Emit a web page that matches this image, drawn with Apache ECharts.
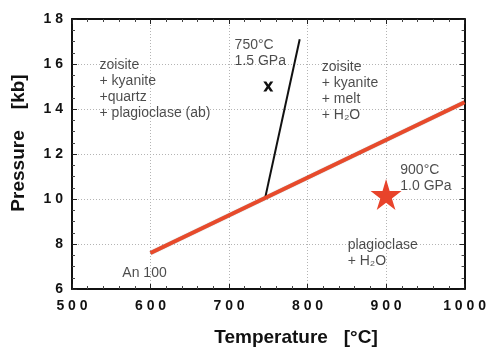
<!DOCTYPE html>
<html>
<head>
<meta charset="utf-8">
<script src="https://cdn.jsdelivr.net/npm/echarts@6/dist/echarts.min.js"></script>
<style>
  html, body { margin: 0; padding: 0; background: #fff; }
  #chart { width: 489px; height: 347px; }
</style>
</head>
<body>
<div id="chart"></div>
<script>
// data
const xTicks = [500, 600, 700, 800, 900, 1000]
const yTicks = [6, 8, 10, 12, 14, 16, 18]
const an100Line = [[600, 7.6], [1000, 14.3]]      // plagioclase breakdown (red)
const meltLine = [[746, 10.05], [790, 17.1]]      // melting curve (black)
const crossPoint = [[750, 15.0]]                  // x marker
const starPoint = [[900, 10.2]]                   // red star
const notes = [
  { text: 'zoisite\n+ kyanite\n+quartz\n+ plagioclase (ab)', at: [530, 16.5] },
  { text: '750°C\n1.5 GPa', at: [702, 17.38] },
  { text: 'zoisite\n+ kyanite\n+ melt\n+ H₂O', at: [813, 16.4] },
  { text: '900°C\n1.0 GPa', at: [913, 11.82] },
  { text: 'plagioclase\n+ H₂O', at: [846, 8.49] },
  { text: 'An 100', at: [559, 7.24] },
]

const FONT = '"Liberation Sans", Arial, sans-serif'
const spaced = (v) => String(v).split('').join(' ')

const chart = echarts.init(document.getElementById('chart'), null, { renderer: 'canvas' })

const axisCommon = {
  type: 'value',
  axisLine: { show: true, onZero: false, lineStyle: { color: '#111', width: 2 } },
  axisTick: { show: true, inside: true, length: 5, lineStyle: { color: '#222', width: 1 } },
  minorTick: { show: true, length: 3, lineStyle: { color: '#444', width: 1 } },
}

const option = {
  backgroundColor: '#fff',
  animation: false,
  grid: { left: 72, right: 21, top: 19, bottom: 58 },
  xAxis: [
    {
      ...axisCommon,
      min: xTicks[0],
      max: xTicks[xTicks.length - 1],
      interval: 100,
      minorTick: { ...axisCommon.minorTick, splitNumber: 5 },
      axisLabel: {
        margin: 10,
        color: '#111',
        fontFamily: FONT,
        fontWeight: 'bold',
        fontSize: 14,
        formatter: spaced,
      },
      splitLine: { show: true, lineStyle: { color: '#b4b4b4', type: [1, 2], width: 1 } },
    },
    {
      ...axisCommon,
      position: 'top',
      min: xTicks[0],
      max: xTicks[xTicks.length - 1],
      interval: 100,
      minorTick: { ...axisCommon.minorTick, splitNumber: 5 },
      axisLabel: { show: false },
      splitLine: { show: false },
    },
  ],
  yAxis: [
    {
      ...axisCommon,
      min: yTicks[0],
      max: yTicks[yTicks.length - 1],
      interval: 2,
      minorTick: { ...axisCommon.minorTick, splitNumber: 4 },
      axisLabel: {
        margin: 9,
        color: '#111',
        fontFamily: FONT,
        fontWeight: 'bold',
        fontSize: 14,
        formatter: spaced,
      },
      splitLine: { show: true, lineStyle: { color: '#b4b4b4', type: [1, 2], width: 1 } },
    },
    {
      ...axisCommon,
      position: 'right',
      min: yTicks[0],
      max: yTicks[yTicks.length - 1],
      interval: 2,
      minorTick: { ...axisCommon.minorTick, splitNumber: 4 },
      axisLabel: { show: false },
      splitLine: { show: false },
    },
  ],
  series: [
    {
      type: 'line',
      data: meltLine,
      symbol: 'none',
      lineStyle: { color: '#111', width: 2 },
      z: 3,
    },
    {
      type: 'line',
      data: an100Line,
      symbol: 'none',
      lineStyle: { color: '#e84a2b', width: 4, shadowColor: 'rgba(0,0,0,0.35)', shadowBlur: 1 },
      z: 4,
    },
    {
      type: 'scatter',
      data: crossPoint,
      symbol: 'path://M0,0 L3,0 L5,3 L7,0 L10,0 L6.6,5 L10,10 L7,10 L5,7 L3,10 L0,10 L3.4,5 Z',
      symbolSize: 10,
      itemStyle: { color: '#111', opacity: 1 },
      z: 5,
    },
    {
      type: 'scatter',
      data: starPoint,
      symbol: 'path://M50,0 L61,35 L98,35 L68,57 L79,91 L50,70 L21,91 L32,57 L2,35 L39,35 Z',
      symbolSize: 31,
      itemStyle: { color: '#e8432b', opacity: 1 },
      z: 5,
    },
    {
      type: 'scatter',
      data: notes.map((n) => ({ name: n.text, value: n.at })),
      symbol: 'circle',
      symbolSize: 2,
      itemStyle: { color: 'rgba(0,0,0,0)' },
      silent: true,
      labelLayout: { hideOverlap: false },
      label: {
        show: true,
        position: 'insideTopLeft',
        formatter: (p) => p.name,
        color: '#1e1e1e',
        fontFamily: FONT,
        fontSize: 14,
        lineHeight: 16,
      },
      z: 6,
    },
  ],
  graphic: [
    {
      type: 'text',
      x: 296,
      y: 338,
      style: {
        text: 'Temperature   [°C]',
        font: 'bold 19px ' + FONT,
        fill: '#111',
        align: 'center',
        verticalAlign: 'middle',
      },
    },
    {
      type: 'text',
      x: 19,
      y: 143,
      rotation: Math.PI / 2,
      style: {
        text: 'Pressure    [kb]',
        font: 'bold 19px ' + FONT,
        fill: '#111',
        align: 'center',
        verticalAlign: 'middle',
      },
    },
  ],
}

chart.setOption(option)
</script>
</body>
</html>
